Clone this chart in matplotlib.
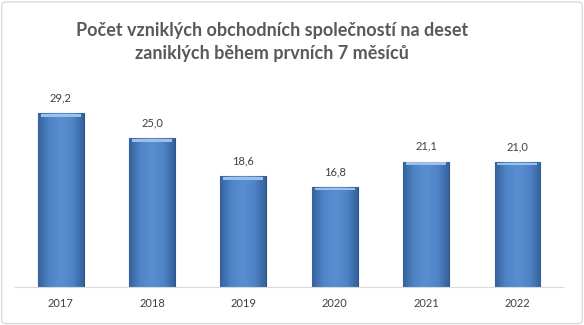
import numpy as np
import matplotlib.pyplot as plt
from matplotlib.colors import LinearSegmentedColormap
from matplotlib.patches import FancyBboxPatch

years = ['2017', '2018', '2019', '2020', '2021', '2022']
values = [29.2, 25.0, 18.6, 16.8, 21.1, 21.0]
labels = ['29,2', '25,0', '18,6', '16,8', '21,1', '21,0']

title = 'Počet vzniklých obchodních společností na deset\nzaniklých během prvních 7 měsíců'

plt.rcParams['font.family'] = ['Lato', 'DejaVu Sans']

fig = plt.figure(figsize=(5.84, 3.25), dpi=100)
ax = fig.add_axes([15 / 584, 1 - 287 / 325, 548 / 584, 205 / 325])

x = np.arange(len(years))
bars = ax.bar(x, values, width=0.5, color='#4a7ebf', edgecolor='#2e5584', linewidth=0.8, zorder=2)

# horizontal gradient inside each bar: darker edges, lighter middle
cmap = LinearSegmentedColormap.from_list('barg', ['#34619b', '#4f85c8', '#5a8ed0', '#4f85c8', '#34619b'])
grad = np.linspace(0, 1, 256).reshape(1, -1)
for b in bars:
    x0, w, h = b.get_x(), b.get_width(), b.get_height()
    im = ax.imshow(grad, cmap=cmap, aspect='auto', extent=[x0, x0 + w, 0, h], zorder=2.5)
    im.set_clip_path(b)
    # thin light bevel at the top
    ax.add_patch(plt.Rectangle((x0 + 0.03, h - 0.55), w - 0.06, 0.45, color='#9dbfe9', zorder=3, lw=0))

for xi, v, lab in zip(x, values, labels):
    ax.text(xi, v + 1.7, lab, ha='center', va='bottom', fontsize=8, color='#404040')

ax.set_xlim(-0.5, len(years) - 0.5)
ax.set_ylim(0, 34.5)
ax.set_xticks(x)
ax.set_xticklabels(years, fontsize=8, color='#404040')
ax.tick_params(axis='x', length=0, pad=8)
ax.set_yticks([])
for s in ['top', 'right', 'left']:
    ax.spines[s].set_visible(False)
ax.spines['bottom'].set_color('#d9d9d9')

fig.text(272 / 584, 1 - 42 / 325, title, ha='center', va='center', fontsize=13,
         fontweight='bold', color='#595959', linespacing=1.45)

border = FancyBboxPatch((0.003, 0.004), 0.994, 0.99, boxstyle='round,pad=0,rounding_size=0.01',
                        transform=fig.transFigure, fill=False, edgecolor='#d9d9d9', linewidth=1)
fig.patches.append(border)

fig.savefig('out.png', dpi=100)
